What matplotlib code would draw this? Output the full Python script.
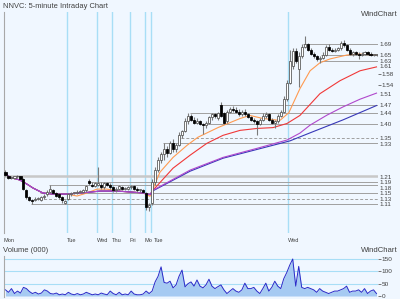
import numpy as np
import matplotlib.pyplot as plt
import matplotlib.transforms as mtransforms

plt.rcParams['font.family'] = ['Liberation Sans', 'DejaVu Sans']

BG = "#f0f7ff"
DAYLINE = "#a8def6"

# --- 5-minute bars ---
opens = [1.225, 1.21, 1.205, 1.205, 1.21, 1.21, 1.20, 1.16, 1.135, 1.125,
         1.125, 1.13, 1.125, 1.135, 1.145, 1.155, 1.16, 1.15, 1.145, 1.135,
         1.115, 1.13, 1.145, 1.15, 1.15, 1.155, 1.155, 1.16, 1.195, 1.18,
         1.175, 1.18, 1.18, 1.17, 1.185, 1.18, 1.17, 1.16, 1.165, 1.17,
         1.165, 1.165, 1.17, 1.175, 1.165, 1.16, 1.16, 1.15, 1.10, 1.115,
         1.19, 1.235, 1.27, 1.29, 1.31, 1.295, 1.33, 1.31, 1.325, 1.36,
         1.375, 1.41, 1.43, 1.415, 1.405, 1.41, 1.40, 1.395, 1.405, 1.425,
         1.435, 1.42, 1.47, 1.44, 1.41, 1.445, 1.455, 1.45, 1.445, 1.435,
         1.445, 1.435, 1.425, 1.415, 1.41, 1.40, 1.415, 1.43, 1.435, 1.415,
         1.405, 1.41, 1.43, 1.445, 1.49, 1.55, 1.61, 1.665, 1.60, 1.645,
         1.68, 1.69, 1.67, 1.655, 1.645, 1.635, 1.64, 1.65, 1.68, 1.67,
         1.665, 1.67, 1.675, 1.695, 1.685, 1.67, 1.655, 1.66, 1.655, 1.65,
         1.655, 1.66, 1.655, 1.65, 1.65]
highs = [1.235, 1.215, 1.21, 1.21, 1.215, 1.21, 1.205, 1.165, 1.14, 1.13,
         1.135, 1.135, 1.14, 1.145, 1.16, 1.18, 1.165, 1.155, 1.15, 1.14,
         1.125, 1.15, 1.155, 1.155, 1.16, 1.16, 1.165, 1.18, 1.20, 1.19,
         1.19, 1.245, 1.19, 1.19, 1.19, 1.185, 1.175, 1.17, 1.18, 1.175,
         1.17, 1.175, 1.18, 1.18, 1.17, 1.165, 1.165, 1.155, 1.115, 1.20,
         1.245, 1.28, 1.30, 1.33, 1.32, 1.34, 1.345, 1.33, 1.37, 1.38,
         1.42, 1.44, 1.435, 1.425, 1.42, 1.415, 1.405, 1.41, 1.43, 1.44,
         1.44, 1.445, 1.48, 1.445, 1.45, 1.46, 1.465, 1.46, 1.455, 1.45,
         1.455, 1.44, 1.43, 1.42, 1.415, 1.42, 1.44, 1.445, 1.44, 1.42,
         1.415, 1.435, 1.45, 1.50, 1.56, 1.67, 1.675, 1.675, 1.66, 1.69,
         1.72, 1.695, 1.675, 1.66, 1.65, 1.645, 1.66, 1.685, 1.69, 1.675,
         1.675, 1.68, 1.70, 1.705, 1.69, 1.675, 1.665, 1.665, 1.66, 1.66,
         1.665, 1.665, 1.66, 1.655, 1.655]
lows = [1.21, 1.20, 1.20, 1.20, 1.205, 1.20, 1.16, 1.13, 1.12, 1.11,
        1.12, 1.125, 1.12, 1.13, 1.14, 1.15, 1.145, 1.135, 1.13, 1.115,
        1.11, 1.125, 1.14, 1.145, 1.145, 1.15, 1.15, 1.155, 1.18, 1.17,
        1.17, 1.175, 1.165, 1.165, 1.175, 1.165, 1.155, 1.155, 1.16, 1.16,
        1.16, 1.16, 1.165, 1.16, 1.155, 1.155, 1.15, 1.09, 1.085, 1.105,
        1.18, 1.225, 1.26, 1.27, 1.28, 1.29, 1.30, 1.30, 1.32, 1.35,
        1.37, 1.40, 1.41, 1.40, 1.40, 1.395, 1.365, 1.385, 1.40, 1.415,
        1.42, 1.415, 1.425, 1.40, 1.405, 1.44, 1.445, 1.44, 1.43, 1.43,
        1.43, 1.42, 1.41, 1.405, 1.36, 1.395, 1.41, 1.42, 1.41, 1.40,
        1.385, 1.405, 1.425, 1.44, 1.485, 1.545, 1.60, 1.62, 1.535, 1.64,
        1.675, 1.665, 1.65, 1.64, 1.63, 1.62, 1.635, 1.645, 1.665, 1.66,
        1.66, 1.665, 1.67, 1.68, 1.665, 1.65, 1.645, 1.65, 1.635, 1.645,
        1.65, 1.65, 1.645, 1.645, 1.645]
closes = [1.215, 1.205, 1.205, 1.21, 1.21, 1.20, 1.165, 1.135, 1.125, 1.12,
          1.13, 1.13, 1.135, 1.14, 1.155, 1.165, 1.15, 1.14, 1.135, 1.125,
          1.12, 1.145, 1.15, 1.15, 1.155, 1.155, 1.16, 1.175, 1.185, 1.175,
          1.185, 1.185, 1.17, 1.185, 1.18, 1.17, 1.16, 1.165, 1.175, 1.165,
          1.165, 1.17, 1.175, 1.165, 1.16, 1.16, 1.155, 1.10, 1.105, 1.19,
          1.235, 1.27, 1.29, 1.31, 1.295, 1.33, 1.31, 1.325, 1.36, 1.375,
          1.41, 1.43, 1.415, 1.405, 1.41, 1.40, 1.395, 1.405, 1.425, 1.435,
          1.43, 1.44, 1.43, 1.405, 1.445, 1.455, 1.45, 1.445, 1.435, 1.445,
          1.435, 1.425, 1.415, 1.41, 1.40, 1.415, 1.43, 1.435, 1.415, 1.405,
          1.41, 1.43, 1.445, 1.49, 1.55, 1.63, 1.665, 1.63, 1.645, 1.68,
          1.69, 1.67, 1.655, 1.645, 1.635, 1.64, 1.65, 1.68, 1.67, 1.665,
          1.67, 1.675, 1.695, 1.685, 1.67, 1.655, 1.66, 1.655, 1.65, 1.655,
          1.66, 1.655, 1.65, 1.65, 1.65]
volume = [25, 15, 30, 10, 20, 12, 35, 30, 18, 10,
          15, 8, 12, 25, 20, 10, 8, 12, 5, 8,
          5, 15, 8, 5, 10, 5, 8, 15, 10, 5,
          8, 5, 12, 8, 5, 20, 10, 5, 15, 5,
          8, 5, 20, 8, 5, 5, 8, 20, 10, 20,
          57, 80, 118, 55, 52, 60, 33, 45, 80, 105,
          37, 50, 57, 40, 65, 40, 33, 45, 68, 40,
          30, 38, 45, 25, 10, 20, 30, 20, 15, 25,
          52, 30, 30, 35, 20, 10, 30, 52, 20, 35,
          60, 40, 30, 70, 95, 125, 150, 40, 120, 35,
          30, 35, 30, 25, 15, 30, 20, 15, 10, 15,
          20, 20, 25, 30, 40, 15, 20, 20, 25, 15,
          30, 10, 20, 25, 10]

day_names = ["Mon", "Tue", "Wed", "Thu", "Fri", "Mo", "Tue", "Wed"]
day_starts = [0, 21, 31, 36, 42, 47, 49, 95]

# --- moving averages (bar position, price) ---
ma_orange_x = [0, 1.5, 4.8, 7.2, 9.2, 12.5, 15.9, 20.6, 23.9, 27.2, 30.6, 33.9, 37.3,
               42.6, 46.0, 48.3, 49.3, 51.6, 56.0, 60.7, 64.3, 71.0, 78.4, 81.7,
               86.1, 91.7, 94.7, 98.4, 101.8, 105.1, 108.5, 114.1, 117.5, 124]
ma_orange_y = [1.22, 1.207, 1.197, 1.182, 1.168, 1.150, 1.146, 1.146, 1.139, 1.150,
               1.164, 1.164, 1.157, 1.153, 1.150, 1.138, 1.165, 1.225, 1.279, 1.323,
               1.352, 1.387, 1.420, 1.431, 1.420, 1.413, 1.441, 1.528, 1.593, 1.622,
               1.636, 1.650, 1.654, 1.650]
ma_red_x = [0, 1.5, 4.8, 7.2, 9.2, 12.5, 15.9, 20.6, 24.9, 28.2, 31.6, 37.3, 42.6,
            46.0, 48.3, 49.3, 56.0, 61.7, 67.3, 72.7, 78.4, 84.1, 89.4, 94.1, 98.4,
            105.1, 111.8, 118.5, 124]
ma_red_y = [1.22, 1.207, 1.197, 1.182, 1.168, 1.150, 1.146, 1.146, 1.150, 1.153,
            1.157, 1.157, 1.153, 1.150, 1.144, 1.160, 1.240, 1.287, 1.330, 1.359,
            1.377, 1.384, 1.387, 1.402, 1.431, 1.510, 1.557, 1.593, 1.607]
ma_purple_x = [0, 1.5, 4.8, 7.2, 9.2, 12.5, 15.9, 20.6, 24.9, 28.2, 31.6, 37.3, 42.6,
               46.0, 48.3, 49.3, 61.7, 72.7, 84.1, 94.1, 98.4, 101.8, 107.4, 112.8,
               118.5, 124]
ma_purple_y = [1.22, 1.207, 1.197, 1.182, 1.168, 1.150, 1.146, 1.146, 1.150, 1.153,
               1.157, 1.157, 1.153, 1.150, 1.144, 1.160, 1.233, 1.279, 1.312, 1.342,
               1.367, 1.396, 1.432, 1.462, 1.490, 1.512]
ma_blue_x = [0, 1.5, 4.8, 7.2, 9.2, 12.5, 15.9, 20.6, 24.9, 28.2, 31.6, 37.3, 42.6,
             46.0, 48.3, 49.3, 61.7, 72.7, 84.1, 95.1, 101.8, 112.8, 124]
ma_blue_y = [1.22, 1.207, 1.197, 1.182, 1.168, 1.150, 1.146, 1.146, 1.150, 1.153,
             1.157, 1.157, 1.153, 1.150, 1.144, 1.158, 1.229, 1.276, 1.308, 1.339,
             1.368, 1.415, 1.467]

# --- support / resistance levels and where they start ---
level_values = [1.69, 1.65, 1.63, 1.47, 1.44, 1.40, 1.35, 1.33, 1.21, 1.19, 1.18, 1.15, 1.13, 1.11]
level_starts = [100, 106, 106, 72, 62, 67, 59, 53, 0, 28, 15, 12, 10, 9]
dashed_levels = [1.35, 1.13]
heavy_level = 1.21
ma_end_labels = [1.65, 1.61, 1.51, 1.47]
axis_ticks = [1.58, 1.54]

fig = plt.figure(figsize=(4.0, 2.99), dpi=100, facecolor=BG)
W, H = 400, 299
ax = fig.add_axes([4 / W, (H - 233) / H, 374 / W, 221 / H])
axv = fig.add_axes([4 / W, (H - 297) / H, 374 / W, 41 / H])
for a in (ax, axv):
    a.set_facecolor(BG)
    for s in ("top", "right", "bottom"):
        a.spines[s].set_visible(False)
    a.spines["left"].set_color("#a8a8a8")
    a.spines["left"].set_linewidth(0.8)
    a.set_xlim(-0.5, 124.5)
    a.set_xticks([])

n = len(closes)
x = np.arange(n)
o, h, l, c = map(np.array, (opens, highs, lows, closes))

# day separators (main panel only)
for d in day_starts[1:]:
    ax.axvline(d - 0.5, color=DAYLINE, lw=1.0, zorder=0)

# levels
for v, s in zip(level_values, level_starts):
    if v == heavy_level:
        ax.hlines(v, s - 0.5, 124.5, color="#c8c8c8", lw=1.8, zorder=1)
    elif v in dashed_levels:
        ax.hlines(v, s - 0.5, 124.5, color="#a0a0a0", lw=0.7, ls=(0, (3, 2)), zorder=1)
    else:
        ax.hlines(v, s - 0.5, 124.5, color="#a0a0a0", lw=0.7, zorder=1)

# moving averages
ax.plot(ma_orange_x, ma_orange_y, color="#ff9a50", lw=0.8, zorder=2)
ax.plot(ma_red_x, ma_red_y, color="#f03838", lw=0.8, zorder=2)
ax.plot(ma_blue_x, ma_blue_y, color="#3838b8", lw=0.8, zorder=2)
ax.plot(ma_purple_x, ma_purple_y, color="#b048cc", lw=0.8, zorder=2)

# candles
up = c >= o
ax.vlines(x, l, h, color="#7a7a7a", lw=0.8, zorder=3)
lo = np.minimum(o, c)
bh = np.maximum(np.abs(c - o), 0.003)
ax.bar(x[up], bh[up], bottom=lo[up], width=0.7, color="white",
       edgecolor="#505050", lw=0.55, zorder=4)
ax.bar(x[~up], bh[~up], bottom=lo[~up], width=0.7, color="black",
       edgecolor="black", lw=0.55, zorder=4)

ax.set_ylim(1.005, 1.806)

# right-hand labels, nudged apart when crowded
labels = sorted(set(level_values) | set(ma_end_labels), reverse=True)
gap = 0.019
prev = None
trl = mtransforms.blended_transform_factory(ax.transAxes, ax.transData)
for v in labels:
    pos = v - 0.003
    if prev is not None and pos > prev - gap:
        pos = prev - gap
    ax.text(1.003, pos, f"{v:.2f}", transform=trl, fontsize=4.5,
            color="#404040", ha="left", va="center", clip_on=False)
    prev = pos
ax.yaxis.tick_right()
ax.set_yticks(axis_ticks)
ax.set_yticklabels([f"{v:.2f}" for v in axis_ticks])
ax.tick_params(axis="y", length=2, width=0.6, color="#606060", pad=0.5,
               labelsize=4.5, labelcolor="#404040")

# volume panel
axv.fill_between(x, 0, volume, color="#a6caf2", lw=0, zorder=2)
axv.plot(x, volume, color="#2a2ac8", lw=0.7, zorder=3)
axv.set_ylim(-4, 162)
axv.yaxis.tick_right()
axv.set_yticks([0, 50, 100, 150])
axv.tick_params(axis="y", length=2, width=0.6, color="#606060", pad=0.5,
                labelsize=4.6, labelcolor="#404040")
for v in [50, 100, 150]:
    axv.axhline(v, color=DAYLINE, lw=0.8, zorder=1)

fig.text(3 / W, 1 - 6 / H, "NNVC: 5-minute Intraday Chart", fontsize=5.4,
         color="#404040", ha="left", va="center")
fig.text(398 / W, 1 - 15 / H, "WindChart", fontsize=5.6, color="#404040",
         ha="right", va="center")
fig.text(3 / W, 1 - 251 / H, "Volume (000)", fontsize=5.5, color="#404040",
         ha="left", va="center")
fig.text(398 / W, 1 - 251 / H, "WindChart", fontsize=5.6, color="#404040",
         ha="right", va="center")

# day names under the separators; push a label right if it would run into the previous one
fig.canvas.draw()
renderer = fig.canvas.get_renderer()
last_end = -1e9
for name, d in zip(day_names, day_starts):
    x0 = ax.transData.transform((d - 0.5, 0))[0]
    x0 = max(x0, last_end + 1)
    t = fig.text(x0 / fig.dpi / fig.get_figwidth(), 1 - 240 / H, name, fontsize=4.1,
                 color="#404040", ha="left", va="center")
    last_end = t.get_window_extent(renderer).x1

fig.savefig("out.png", dpi=100, facecolor=BG)
